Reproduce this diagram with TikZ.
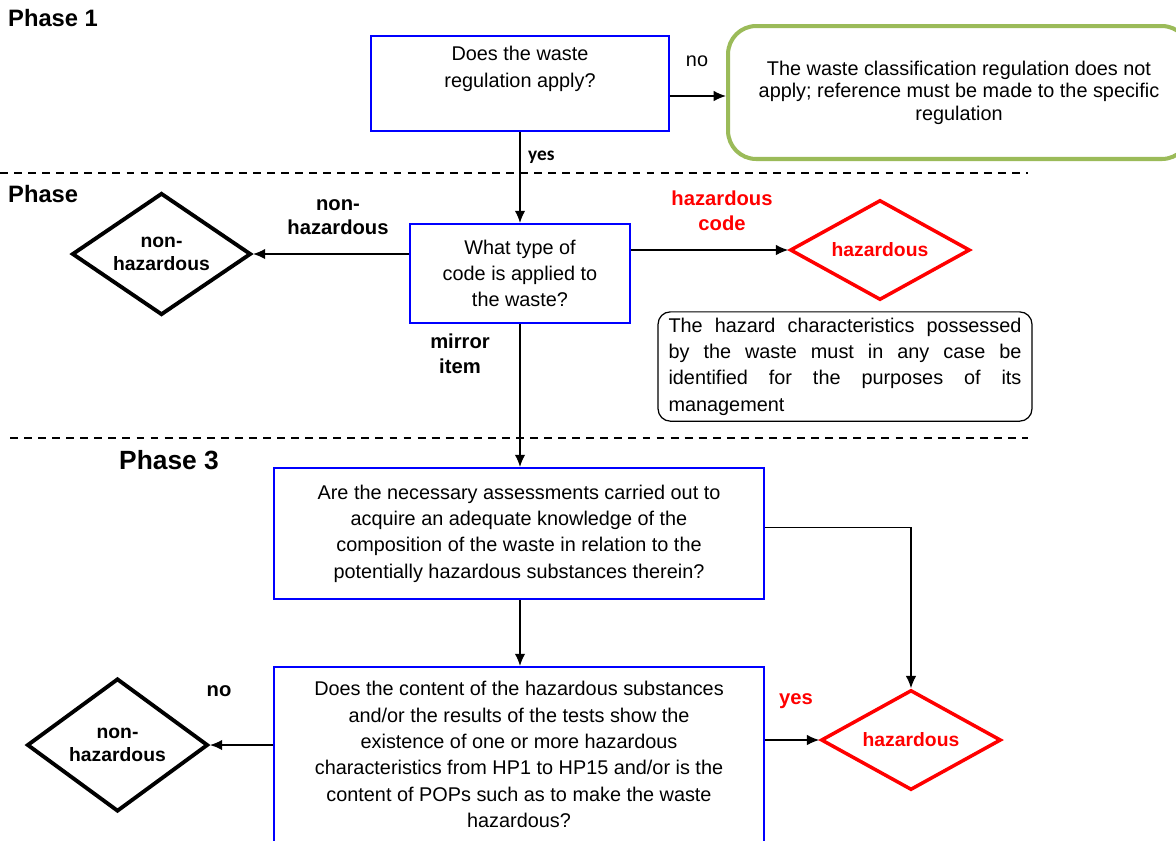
\documentclass[tikz,border=0pt]{standalone}
\usepackage{fontspec}
\setmainfont{Liberation Sans}
\newfontfamily\calibrifont{Carlito}
\definecolor{wsblue}{RGB}{0,0,255}
\definecolor{wsred}{RGB}{255,0,0}
\definecolor{wsgreen}{RGB}{155,187,89}
\usetikzlibrary{arrows.meta,positioning,shapes.geometric,calc}

\begin{document}
\begin{tikzpicture}[x=0.02cm, y=-0.02cm,
  qbox/.style={
    rectangle, draw=wsblue, line width=1.1pt,
    align=center, inner sep=2pt,
    font=\fontsize{11.3}{15}\selectfont
  },
  boxtxt/.style={align=center, inner sep=0pt, font=\fontsize{11.3}{15.4}\selectfont},
  gbox/.style={
    rectangle, rounded corners=16pt, draw=wsgreen, line width=2.3pt,
    align=center, font=\fontsize{11.3}{12.8}\selectfont
  },
  notebox/.style={
    rectangle, rounded corners=7pt, draw=black, line width=0.7pt,
    text width=7.06cm, inner xsep=0.21cm, align=justify,
    font=\fontsize{11.3}{15}\selectfont
  },
  nhdiam/.style={
    diamond, aspect=1.5, draw=black, line width=2.2pt, inner sep=0pt,
    align=center, font=\fontsize{11}{13}\selectfont\bfseries
  },
  hzdiam/.style={
    diamond, aspect=1.5, draw=wsred, line width=2pt, inner sep=0pt,
    minimum width=3.6cm, minimum height=2cm,
    text=wsred, font=\fontsize{11}{13}\selectfont\bfseries
  },
  lbl/.style={align=center, font=\fontsize{11.5}{14}\selectfont\bfseries},
  phase/.style={anchor=west, font=\fontsize{13.5}{15}\selectfont\bfseries},
  conn/.style={-{Latex[length=7pt,width=6pt]}, line width=0.9pt},
  sep/.style={dash pattern=on 4.5pt off 3.5pt, line width=0.7pt}
]
\useasboundingbox (0,0) rectangle (1176,840);

\node[phase] (ph1) at (2,18) {Phase 1};
\node[phase] (ph2) at (2,194) {Phase};
\node[phase, font=\fontsize{15}{17}\selectfont\bfseries] (ph3) at (113,460) {Phase 3};

\draw[sep] (0,173) -- (1028,173);
\draw[sep] (10,438) -- (1028,438);

\node[qbox, minimum width=5.96cm, minimum height=1.9cm] (q1) at (520,83.5) {};
\node[boxtxt] (q1txt) at (520,68.5) {Does the waste\\regulation apply?};
\node[gbox, minimum width=9.24cm, minimum height=2.66cm] (nap) at (959,92.5)
  {The waste classification regulation does not\\apply; reference must be made to the specific\\regulation};

\node[qbox, minimum width=4.4cm, minimum height=1.98cm] (q2) at (520,273.5)
  {What type of\\code is applied to\\the waste?};
\node[nhdiam, minimum width=3.58cm, minimum height=2.44cm] (nh1) at (161.5,254) {non-\\hazardous};
\node[hzdiam] (hz1) at (880,250) {hazardous};
\node[notebox, minimum height=2.14cm] (note) at (845,366.5)
  {The hazard characteristics possessed\linebreak by the waste must in any case be\linebreak identified for the purposes of its\linebreak management};

\node[qbox, minimum width=9.82cm, minimum height=2.62cm] (q3) at (519,533.5)
  {Are the necessary assessments carried out to\\acquire an adequate knowledge of the\\composition of the waste in relation to the\\potentially hazardous substances therein?};
\node[qbox, minimum width=9.82cm, minimum height=3.5cm] (q4) at (519,754.5)
  {Does the content of the hazardous substances\\and/or the results of the tests show the\\existence of one or more hazardous\\characteristics from HP1 to HP15 and/or is the\\content of POPs such as to make the waste\\hazardous?};
\node[nhdiam, minimum width=3.62cm, minimum height=2.66cm] (nh2) at (117.5,745) {non-\\hazardous};
\node[hzdiam] (hz2) at (911,740) {hazardous};

\node[font=\fontsize{11.3}{13}\selectfont] (nolbl) at (697,61) {no};
\node[anchor=west, font=\calibrifont\fontsize{11}{13}\selectfont\bfseries] (yeslbl) at (522,157) {yes};
\node[lbl] (nhlbl) at (338,217) {non-\\hazardous};
\node[lbl, text=wsred] (hclbl) at (722,211) {hazardous\\code};
\node[lbl] (mirlbl) at (460,354) {mirror\\item};
\node[lbl] (nolbl2) at (219,691) {no};
\node[lbl, text=wsred] (yeslbl2) at (796,701) {yes};

\draw[conn] ([yshift=-0.25cm]q1.east) -- ([yshift=-0.25cm]q1.east -| nap.west);
\draw[conn] (q1) -- (q2);
\draw[conn] (q2.west |- nh1.east) -- (nh1.east);
\draw[conn] (q2.east |- hz1.west) -- (hz1.west);
\draw[conn] (q2.south) -- (q2.south |- q3.north);
\draw[conn] (q3.south -| q2.south) -- (q2.south |- q4.north);
\draw[conn] ([yshift=0.12cm]q3.east) -| (hz2.north);
\draw[conn] (q4.west |- nh2.east) -- (nh2.east);
\draw[conn] (q4.east |- hz2.west) -- (hz2.west);
\end{tikzpicture}
\end{document}
